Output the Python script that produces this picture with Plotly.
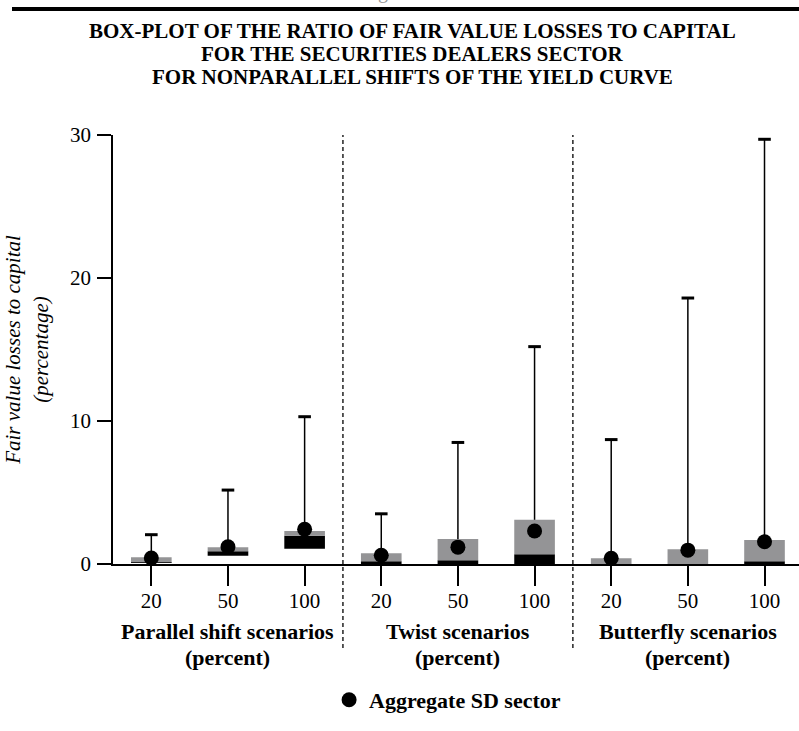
import plotly.graph_objects as go

# ---- data ----
scenario_ticks = ["20", "50", "100", "20", "50", "100", "20", "50", "100"]
group_names = ["Parallel shift scenarios", "Twist scenarios", "Butterfly scenarios"]
group_unit = "(percent)"
title_lines = ["BOX-PLOT OF THE RATIO OF FAIR VALUE LOSSES TO CAPITAL",
               "FOR THE SECURITIES DEALERS SECTOR",
               "FOR NONPARALLEL SHIFTS OF THE YIELD CURVE"]
q1 = [0.10, 0.57, 1.06, 0.00, 0.00, 0.00, 0.00, 0.00, 0.00]
median = [0.12, 0.90, 1.98, 0.19, 0.26, 0.68, 0.00, 0.00, 0.19]
q3 = [0.47, 1.18, 2.31, 0.75, 1.75, 3.09, 0.40, 1.04, 1.67]
maximum = [2.05, 5.17, 10.3, 3.51, 8.5, 15.2, 8.7, 18.6, 29.7]
aggregate = [0.42, 1.20, 2.43, 0.61, 1.18, 2.31, 0.40, 0.97, 1.56]

xpos = list(range(len(scenario_ticks)))
FONT = '"Liberation Serif", "Times New Roman", "DejaVu Serif", serif'
GRAY = "#949496"
T, B, H = 135, 167, 731


def py(pix):
    """page pixel row -> paper y"""
    return (H - B - pix) / (H - T - B)


fig = go.Figure()

# whiskers: stem from top of box to maximum, with a cap at the maximum
fig.add_trace(go.Scatter(
    x=xpos, y=maximum, mode="markers",
    marker=dict(symbol="line-ew", size=9, color="black", line=dict(width=3, color="black")),
    error_y=dict(type="data", symmetric=False, array=[0] * len(xpos),
                 arrayminus=[m - q for m, q in zip(maximum, q3)],
                 width=0, thickness=1.5, color="black"),
    showlegend=False, hoverinfo="skip"))

# lower part of the box (Q1 -> median), black
fig.add_trace(go.Bar(
    x=xpos, base=q1, y=[m - a for m, a in zip(median, q1)],
    width=0.53, marker=dict(color="black", line=dict(width=0)), showlegend=False))
# upper part of the box (median -> Q3), gray
fig.add_trace(go.Bar(
    x=xpos, base=median, y=[b - m for b, m in zip(q3, median)],
    width=0.53, marker=dict(color=GRAY, line=dict(width=0)), showlegend=False))

# aggregate SD sector
fig.add_trace(go.Scatter(
    x=xpos, y=aggregate, mode="markers", name="Aggregate SD sector",
    marker=dict(symbol="circle", size=15, color="black")))

fig.update_layout(
    width=799, height=H,
    margin=dict(l=113, r=0, t=T, b=B),
    paper_bgcolor="white", plot_bgcolor="white",
    barmode="overlay",
    font=dict(family=FONT, color="black", size=19),
    showlegend=True,
    legend=dict(orientation="h", x=0.315, xanchor="left", y=py(700), yanchor="middle",
                font=dict(family=FONT, size=22, weight="bold", color="black"),
                bgcolor="rgba(0,0,0,0)"),
    xaxis=dict(range=[-0.5, 8.45], tickmode="array", tickvals=xpos, ticktext=scenario_ticks,
               showgrid=False, zeroline=False, showline=True, linecolor="black", linewidth=1.5,
               ticks="outside", ticklen=20, tickwidth=1.5, tickcolor="black",
               ticklabelstandoff=-3,
               tickfont=dict(family=FONT, size=21, color="black")),
    yaxis=dict(range=[0, 30], tickvals=[0, 10, 20, 30], showgrid=False, zeroline=False,
               showline=True, linecolor="black", linewidth=1.5,
               ticks="outside", ticklen=14, tickwidth=1.5, tickcolor="black",
               ticklabelstandoff=2,
               tickfont=dict(family=FONT, size=21, color="black"),
               title=dict(text="<i>Fair value losses to capital<br>(percentage)</i>",
                          font=dict(family=FONT, size=21, color="black"), standoff=16)),
)

# dashed separators between scenario groups
for xsep in [2.5, 5.5]:
    fig.add_shape(type="line", xref="x", yref="paper", x0=xsep, x1=xsep, y0=py(648), y1=1,
                  line=dict(color="black", width=1.3, dash="4px,3px"))

# thick rule at top
fig.add_shape(type="line", xref="paper", yref="paper", x0=(12 - 113) / 686, x1=1.0, y0=py(9), y1=py(9),
              line=dict(color="black", width=4))

# clipped fragment of the figure label above the rule
fig.add_annotation(xref="paper", yref="paper", x=(383 - 113) / 686, y=py(5), yanchor="bottom",
                   text="g", showarrow=False, font=dict(family=FONT, size=20, color="#9a9a9a"))

# title, one annotation per line
for line, ypix in zip(title_lines, [31, 54, 77]):
    fig.add_annotation(xref="paper", yref="paper", x=(412 - 113) / 686, y=py(ypix),
                       xanchor="center", yanchor="middle", text=line, showarrow=False,
                       font=dict(family=FONT, size=21, weight="bold", color="black"))

# group labels
for gx, gname in zip([1, 4, 7], group_names):
    for txt, ypix in zip([gname, group_unit], [631, 657]):
        fig.add_annotation(xref="x", yref="paper", x=gx, y=py(ypix), xanchor="center",
                           yanchor="middle", text=txt, showarrow=False,
                           font=dict(family=FONT, size=22, weight="bold", color="black"))

fig.write_html("out.html", config={"displayModeBar": False},
               post_script="document.body.style.margin='0';")
